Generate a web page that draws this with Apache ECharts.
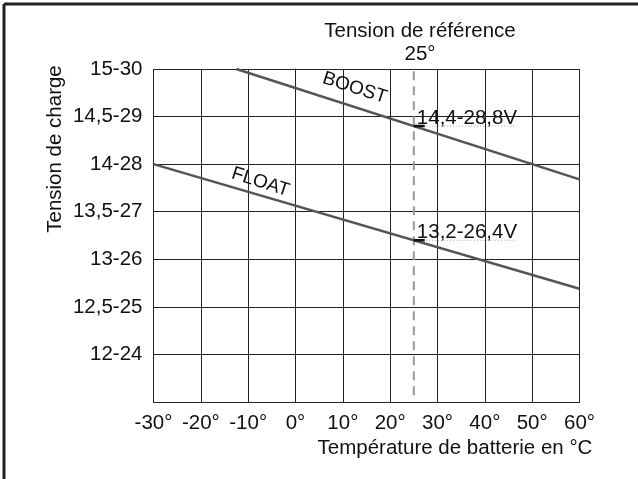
<!DOCTYPE html>
<html lang="fr">
<head>
    <meta charset="UTF-8">
    <title>Tension de charge</title>
    <script src="https://cdn.jsdelivr.net/npm/echarts@6/dist/echarts.min.js"></script>
    <style>
        * { margin: 0; padding: 0 }
        html, body { width: 100%; height: 100%; background: #fff; }
        #main { width: 638px; height: 479px; }
    </style>
</head>
<body>
<div id="main"></div>
<script type="text/javascript">
    // valeurs
    var yTickValues = [12, 12.5, 13, 13.5, 14, 14.5, 15];
    var yTickLabels = ['12-24', '12,5-25', '13-26', '13,5-27', '14-28', '14,5-29', '15-30'];
    var boostData = [[-12.5, 15], [60, 13.84]];
    var floatData = [[-30, 14], [60, 12.69]];
    var refTemp = 25;
    var refValues = [14.4, 13.2];
    var refLabels = ['14,4-28,8V', '13,2-26,4V'];

    var FONT = 'Liberation Sans, Arial, sans-serif';
    var FS = 20.5;
    var chart = echarts.init(document.getElementById('main'));

    var refSeries = [];
    refValues.forEach(function (v) {
        // petit trait noir
        refSeries.push({
            type: 'line', data: [[refTemp, v], [refTemp + 2.3, v]], symbol: 'none', silent: true,
            lineStyle: {color: '#111', width: 2.5}, z: 5
        });
        // pointillés sous l'étiquette
        refSeries.push({
            type: 'line', data: [[refTemp + 2.6, v], [46.3, v]], symbol: 'none', silent: true,
            lineStyle: {color: '#aaa', width: 1, type: [1, 2]}, z: 4
        });
    });

    chart.setOption({
        animation: false,
        grid: {left: 153.5, right: 58.5, top: 69, bottom: 77},
        xAxis: {
            type: 'value', min: -30, max: 60, interval: 10,
            axisLine: {lineStyle: {color: '#222', width: 1}},
            axisTick: {show: false},
            splitLine: {lineStyle: {color: '#222', width: 1}},
            axisLabel: {
                color: '#111', fontSize: FS, fontFamily: FONT, margin: 11,
                formatter: function (v) { return v + '°'; }
            }
        },
        yAxis: {
            type: 'value', min: 11.5, max: 15, interval: 0.5,
            axisLine: {show: true, lineStyle: {color: '#222', width: 1}},
            axisTick: {show: false},
            splitLine: {lineStyle: {color: '#222', width: 1}},
            axisLabel: {
                color: '#111', fontSize: FS, fontFamily: FONT, margin: 11,
                formatter: function (v) {
                    var i = yTickValues.indexOf(v);
                    return i >= 0 ? yTickLabels[i] : '';
                }
            }
        },
        series: [
            {
                name: 'BOOST', type: 'line', data: boostData, symbol: 'none', silent: true,
                lineStyle: {color: '#555', width: 2.5}, z: 3
            },
            {
                name: 'FLOAT', type: 'line', data: floatData, symbol: 'none', silent: true,
                lineStyle: {color: '#555', width: 2.5}, z: 3
            },
            {
                type: 'line', data: [[refTemp, 11.57], [refTemp, 15]], symbol: 'none', silent: true,
                lineStyle: {color: '#999', width: 2, type: [9, 6]}, z: 2
            }
        ].concat(refSeries)
    });

    function px(p) { return chart.convertToPixel({gridIndex: 0}, p); }

    function txt(s, x, y, opts) {
        opts = opts || {};
        return {
            type: 'text', position: [x, y], rotation: opts.rotation || 0, z: 10,
            style: {
                text: s, x: 0, y: 0, fill: '#111', font: (opts.size || FS) + 'px ' + FONT,
                textAlign: opts.align || 'center', textVerticalAlign: 'middle'
            }
        };
    }

    var g = [
        // cadre (haut et gauche)
        {type: 'line', shape: {x1: 4, y1: 4, x2: 638, y2: 4}, style: {stroke: '#222', lineWidth: 3}},
        {type: 'line', shape: {x1: 4, y1: 4, x2: 4, y2: 479}, style: {stroke: '#222', lineWidth: 3}},
        txt('Tension de référence', 420, 31),
        txt('25°', 420, 54),
        txt('Tension de charge', 55, 149, {rotation: Math.PI / 2}),
        txt('Température de batterie en °C', 455, 448)
    ];

    var pb = px([12.5, 14.8]);
    g.push(txt('BOOST', pb[0], pb[1], {rotation: -0.31, size: 19}));
    var pf = px([-7.4, 13.81]);
    g.push(txt('FLOAT', pf[0], pf[1], {rotation: -0.31, size: 19}));

    refValues.forEach(function (v, i) {
        var p = px([refTemp, v]);
        g.push(txt(refLabels[i], p[0] + 3, p[1] - 8, {align: 'left'}));
    });

    chart.setOption({graphic: g});
</script>
</body>
</html>
